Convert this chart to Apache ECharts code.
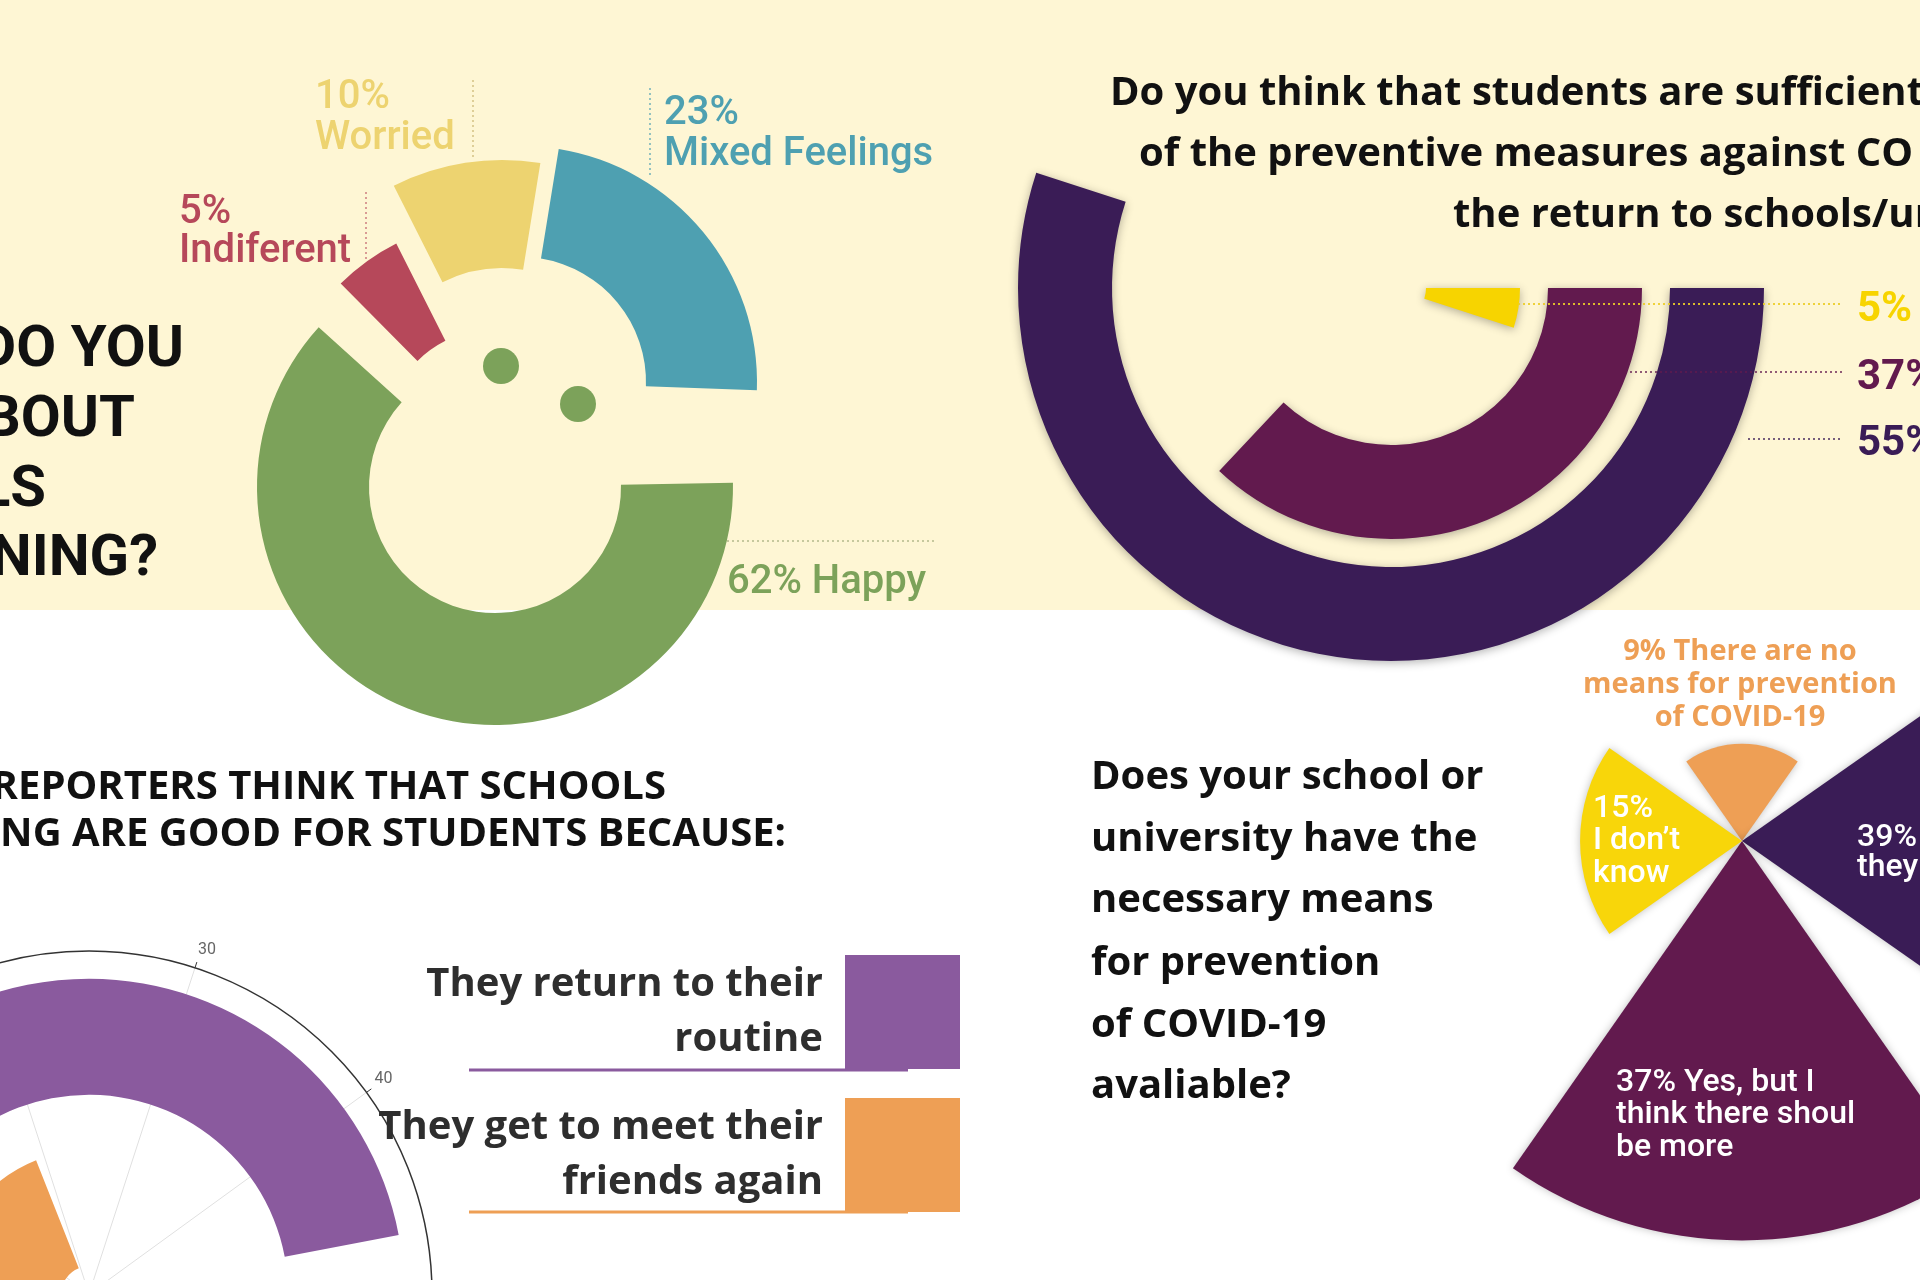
<!DOCTYPE html>
<html>
<head>
<meta charset="utf-8">
<title>Schools reopening survey</title>
<script src="https://cdn.jsdelivr.net/npm/echarts@6/dist/echarts.min.js"></script>
<style>
  html, body { margin: 0; padding: 0; background: #fff; }
  #main { width: 1920px; height: 1280px; }
</style>
</head>
<body>
<div id="main"></div>
<script>
// how do you feel about schools reopening (top left)
const feelingNames = ['Happy', 'Indiferent', 'Worried', 'Mixed Feelings'];
const feelingValues = [62, 5, 10, 23];
// are students informed of the preventive measures (top right)
const informedValues = [5, 37, 55];
// why reopening is good (bottom left, polar)
const reasonNames = ['They get to meet their friends again', 'They return to their routine'];
const reasonValues = [19, 47];
// does the school have the means (bottom right, rose)
const meansNames = ['There are no means for prevention of COVID-19', 'they', 'Yes, but I think there shoul be more', 'I don’t know'];
const meansValues = [9, 39, 37, 15];

const FONT = 'Roboto, "Noto Sans", sans-serif';
const HEAD = '"Open Sans", Roboto, sans-serif';
const feelingColors = ['#7CA25A', '#B6485A', '#EDD370', '#4EA0B1'];
// each sector of the smiley donut is pulled out a little on its own
const feelingLayout = [
  { center: [495, 487], radius: [126, 238], rot: 1 },
  { center: [495, 439], radius: [110, 219], rot: -2 },
  { center: [502, 400], radius: [132, 240], rot: -2 },
  { center: [521, 382], radius: [125, 236], rot: -2 }
];
const informedColors = ['#F7D400', '#621A4E', '#3A1C56'];
const reasonColors = ['#EE9F55', '#8A5A9E'];
const meansColors = ['#EE9F55', '#3A1C56', '#621A4E', '#F8D60A'];

function txt(x, y, text, size, color, weight, align, family) {
  const shift = family === HEAD ? 0.05 : 0.12;
  return {
    type: 'text', x: x, y: y + Math.round(size * shift), z: 100, silent: true,
    style: {
      text: text, fill: color, fontSize: size, fontWeight: weight || 'bold',
      fontFamily: family || FONT, align: align || 'left', verticalAlign: 'middle'
    }
  };
}
function head(x, y, text, size, align) {
  return txt(x, y, text, size, '#111', 'bold', align, HEAD);
}
function dots(x1, y1, x2, y2, color, w) {
  return {
    type: 'line', z: 90, silent: true,
    shape: { x1: x1, y1: y1, x2: x2, y2: y2 },
    style: { stroke: color, lineWidth: w || 1.5, lineDash: [2, 3] }
  };
}

let cum = 0;
const feelingSeries = feelingValues.map(function (v, i) {
  const start = feelingLayout[i].rot - cum * 3.6;
  cum += v;
  return {
    type: 'pie',
    center: feelingLayout[i].center,
    radius: feelingLayout[i].radius,
    startAngle: start,
    clockwise: true,
    silent: true,
    label: { show: false },
    labelLine: { show: false },
    data: [
      { value: v, name: feelingNames[i], itemStyle: { color: feelingColors[i] } },
      { value: 100 - v, name: '', itemStyle: { color: 'rgba(0,0,0,0)' } }
    ]
  };
});

const dom = echarts.init(document.getElementById('main'));
const option = {
  backgroundColor: '#ffffff',
  animation: false,
  polar: [
    { center: [1391, 288], radius: [21, 387] },
    { center: [89, 1294], radius: [0, 343] }
  ],
  angleAxis: [
    { polarIndex: 0, min: 0, max: 100, startAngle: 0, clockwise: true, show: false },
    {
      polarIndex: 1, min: 0, max: 100, interval: 10, startAngle: 180, clockwise: true,
      axisLine: { lineStyle: { color: '#333', width: 1.5 } },
      axisTick: { length: 6, lineStyle: { color: '#333' } },
      axisLabel: { color: '#666', fontSize: 16, fontFamily: FONT, margin: 10 },
      splitLine: { lineStyle: { color: '#e0e0e0' } }
    }
  ],
  radiusAxis: [
    { polarIndex: 0, type: 'category', data: ['a', 'b', 'c'], show: false },
    {
      polarIndex: 1, type: 'category', data: ['friends', 'routine'],
      axisLine: { show: false }, axisTick: { show: false },
      axisLabel: { show: false }, splitLine: { show: false }
    }
  ],
  legend: {
    data: [reasonNames[1], reasonNames[0]],
    orient: 'vertical', align: 'right', right: 960, top: 950,
    itemWidth: 115, itemHeight: 114, itemGap: 19, icon: 'rect', padding: 0,
    selectedMode: false,
    formatter: function (n) { return n.replace(/ (routine|friends again)$/, '\n$1'); },
    textStyle: {
      fontSize: 40, fontWeight: 'bold', color: '#2e2e2e', fontFamily: HEAD,
      lineHeight: 55, padding: [14, 17, 0, 0]
    }
  },
  graphic: [
    { type: 'rect', z: -10, silent: true, shape: { x: 0, y: 0, width: 1920, height: 610 }, style: { fill: '#FEF6D4' } },

    // smiley eyes
    { type: 'circle', z: 5, silent: true, shape: { cx: 501, cy: 366, r: 18 }, style: { fill: feelingColors[0] } },
    { type: 'circle', z: 5, silent: true, shape: { cx: 578, cy: 404, r: 18 }, style: { fill: feelingColors[0] } },

    txt(184, 344, 'DO YOU', 58, '#111', 'bold', 'right'),
    txt(135, 414, 'BOUT', 58, '#111', 'bold', 'right'),
    txt(46, 484, 'LS', 58, '#111', 'bold', 'right'),
    txt(158, 553, 'NING?', 58, '#111', 'bold', 'right'),

    txt(179, 208, feelingValues[1] + '%', 40, feelingColors[1], 500),
    txt(179, 247, feelingNames[1], 40, feelingColors[1], 500),
    txt(315, 93, feelingValues[2] + '%', 40, feelingColors[2], 500),
    txt(315, 134, feelingNames[2], 40, feelingColors[2], 500),
    txt(664, 109, feelingValues[3] + '%', 40, feelingColors[3], 500),
    txt(664, 150, feelingNames[3], 40, feelingColors[3], 500),
    txt(727, 578, feelingValues[0] + '% ' + feelingNames[0], 40, feelingColors[0], 500),
    dots(366, 192, 366, 262, 'rgba(182,72,90,0.7)'),
    dots(473, 80, 473, 158, 'rgba(200,180,110,0.8)'),
    dots(650, 88, 650, 178, 'rgba(78,160,177,0.8)'),
    dots(727, 541, 934, 541, 'rgba(160,170,120,0.8)'),

    head(1110, 92, 'Do you think that students are sufficientl', 40),
    head(1139, 153, 'of the preventive measures against CO', 40),
    head(1453, 214, 'the return to schools/ur', 40),
    dots(1518, 304, 1843, 304, 'rgba(235,205,40,0.9)', 2),
    dots(1630, 372, 1843, 372, 'rgba(98,26,78,0.7)', 2),
    dots(1748, 439, 1843, 439, 'rgba(58,28,86,0.7)', 2),
    txt(1857, 305, informedValues[0] + '%', 42, informedColors[0], 'bold'),
    txt(1857, 373, informedValues[1] + '%', 42, informedColors[1], 'bold'),
    txt(1857, 439, informedValues[2] + '%', 42, informedColors[2], 'bold'),

    head(666, 786, 'REPORTERS THINK THAT SCHOOLS', 40, 'right'),
    head(786, 833, 'NG ARE GOOD FOR STUDENTS BECAUSE:', 40, 'right'),
    { type: 'line', z: 1, silent: true, shape: { x1: 469, y1: 1070, x2: 908, y2: 1070 }, style: { stroke: reasonColors[1], lineWidth: 3 } },
    { type: 'line', z: 1, silent: true, shape: { x1: 469, y1: 1212, x2: 908, y2: 1212 }, style: { stroke: reasonColors[0], lineWidth: 3 } },

    head(1091, 776, 'Does your school or', 40),
    head(1091, 838, 'university have the', 40),
    head(1091, 899, 'necessary means', 40),
    head(1091, 962, 'for prevention', 40),
    head(1091, 1024, 'of COVID-19', 40),
    head(1091, 1085, 'avaliable?', 40),

    txt(1740, 651, meansValues[0] + '% There are no', 29, meansColors[0], 'bold', 'center', HEAD),
    txt(1740, 684, 'means for prevention', 29, meansColors[0], 'bold', 'center', HEAD),
    txt(1740, 717, 'of COVID-19', 29, meansColors[0], 'bold', 'center', HEAD),
    txt(1593, 805, meansValues[3] + '%', 32, '#fff', 500),
    txt(1593, 837, 'I don’t', 32, '#fff', 500),
    txt(1593, 870, 'know', 32, '#fff', 500),
    txt(1857, 834, meansValues[1] + '%', 32, '#fff', 500),
    txt(1857, 864, meansNames[1], 32, '#fff', 500),
    txt(1616, 1079, meansValues[2] + '% Yes, but I', 32, '#fff', 500),
    txt(1616, 1111, 'think there shoul', 32, '#fff', 500),
    txt(1616, 1144, 'be more', 32, '#fff', 500)
  ],
  series: feelingSeries.concat([
    {
      type: 'bar', coordinateSystem: 'polar', polarIndex: 0, barWidth: 94, silent: true,
      itemStyle: { shadowBlur: 10, shadowColor: 'rgba(0,0,0,0.3)', shadowOffsetY: 2 },
      data: informedValues.map(function (v, i) {
        return { value: v, itemStyle: { color: informedColors[i] } };
      })
    },
    {
      name: reasonNames[1], type: 'bar', coordinateSystem: 'polar', polarIndex: 1,
      stack: 'reasons', barWidth: 116, silent: true,
      itemStyle: { color: reasonColors[1] },
      data: ['-', reasonValues[1]]
    },
    {
      name: reasonNames[0], type: 'bar', coordinateSystem: 'polar', polarIndex: 1,
      stack: 'reasons', barWidth: 116, silent: true,
      itemStyle: { color: reasonColors[0] },
      data: [reasonValues[0], '-']
    },
    {
      type: 'pie', roseType: 'area', center: [1742, 841], radius: [0, 421],
      startAngle: 135, clockwise: true, padAngle: 20, silent: true,
      label: { show: false }, labelLine: { show: false },
      itemStyle: { shadowBlur: 8, shadowColor: 'rgba(0,0,0,0.25)' },
      data: meansValues.map(function (v, i) {
        return { value: v, name: meansNames[i], itemStyle: { color: meansColors[i] } };
      })
    }
  ])
};
dom.setOption(option);
window.addEventListener('resize', function () { dom.resize(); });
</script>
</body>
</html>
